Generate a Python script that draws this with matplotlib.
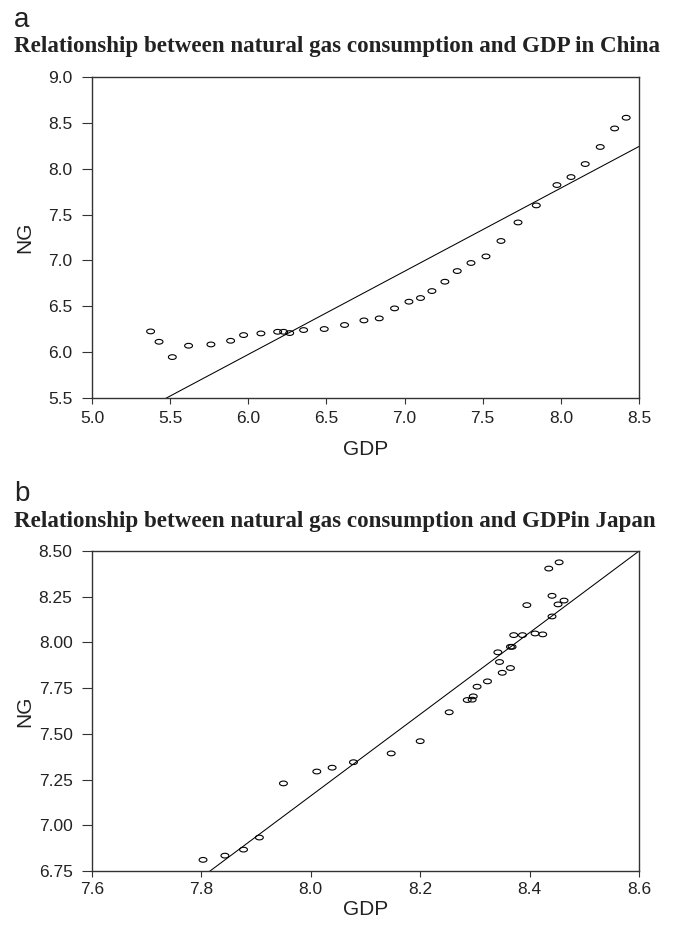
import numpy as np
import matplotlib
matplotlib.use("Agg")
import matplotlib.pyplot as plt
from matplotlib.path import Path
from matplotlib.ticker import FormatStrFormatter

# Data (log GDP vs log natural gas consumption)

chinaGdp = [5.375, 5.429, 5.514, 5.618, 5.761, 5.887, 5.970, 6.081, 6.188, 6.226,
            6.265, 6.354, 6.486, 6.616, 6.740, 6.838, 6.936, 7.028, 7.102, 7.175,
            7.258, 7.337, 7.425, 7.521, 7.617, 7.726, 7.843, 7.975, 8.065, 8.156,
            8.252, 8.344, 8.418]
chinaNg = [6.226, 6.113, 5.946, 6.070, 6.084, 6.124, 6.186, 6.204, 6.222, 6.222,
           6.208, 6.241, 6.252, 6.296, 6.346, 6.368, 6.477, 6.550, 6.590, 6.666,
           6.768, 6.884, 6.972, 7.044, 7.212, 7.414, 7.600, 7.822, 7.909, 8.051,
           8.237, 8.439, 8.556]
chinaFit = (0.533, 0.907)   # intercept, slope

japanGdp = [7.803, 7.843, 7.877, 7.906, 7.950, 8.011, 8.039, 8.078, 8.147, 8.200,
            8.253, 8.286, 8.295, 8.297, 8.304, 8.323, 8.342, 8.345, 8.350, 8.365,
            8.365, 8.368, 8.371, 8.387, 8.395, 8.410, 8.424, 8.441, 8.435, 8.454,
            8.441, 8.452, 8.463]
japanNg = [6.811, 6.834, 6.867, 6.933, 7.229, 7.294, 7.315, 7.345, 7.393, 7.460,
           7.618, 7.685, 7.687, 7.705, 7.758, 7.787, 7.946, 7.893, 7.834, 7.860,
           7.976, 7.976, 8.040, 8.040, 8.204, 8.049, 8.044, 8.142, 8.404, 8.438,
           8.255, 8.208, 8.229]
japanFit = (-10.687, 2.231)

chinaXticks = [5.0, 5.5, 6.0, 6.5, 7.0, 7.5, 8.0, 8.5]
chinaYticks = [5.5, 6.0, 6.5, 7.0, 7.5, 8.0, 8.5, 9.0]
japanXticks = [7.6, 7.8, 8.0, 8.2, 8.4, 8.6]
japanYticks = [6.75, 7.00, 7.25, 7.50, 7.75, 8.00, 8.25, 8.50]

sansFont = ['Liberation Sans', 'DejaVu Sans']
serifFont = ['Liberation Serif', 'DejaVu Serif']
textColor = '#222222'

# Open ellipse marker, wider than tall
theta = np.linspace(0, 2 * np.pi, 40)
ellipse = Path(np.column_stack([np.cos(theta), 0.6 * np.sin(theta)]))

fig = plt.figure(figsize=(6.75, 9.26), dpi=100)
W, H = 675.0, 926.0


def draw_panel(ax, x, y, fit, xticks, yticks, yfmt, xpad, xlabelY):
    ax.scatter(x, y, marker=ellipse, s=32, facecolors='none', edgecolors='black',
               linewidths=0.8, zorder=3)
    xl = np.array([xticks[0], xticks[-1]])
    ax.plot(xl, fit[0] + fit[1] * xl, color='black', lw=0.75, zorder=2)
    ax.set_xlim(xticks[0], xticks[-1])
    ax.set_ylim(yticks[0], yticks[-1])
    ax.set_xticks(xticks)
    ax.set_yticks(yticks)
    ax.xaxis.set_major_formatter(FormatStrFormatter('%.1f'))
    ax.yaxis.set_major_formatter(FormatStrFormatter(yfmt))
    ax.tick_params(axis='x', direction='out', length=4.2, width=0.8, color='#333333',
                   labelsize=12.5, pad=xpad)
    ax.tick_params(axis='y', direction='out', length=7.5, width=0.8, color='#333333',
                   labelsize=12.5, pad=6.5)
    for lab in ax.get_xticklabels() + ax.get_yticklabels():
        lab.set_family(sansFont)
        lab.set_color(textColor)
    for sp in ax.spines.values():
        sp.set_linewidth(1.0)
        sp.set_color('#333333')
    ax.set_xlabel('GDP', family=sansFont, fontsize=15, color=textColor)
    ax.set_ylabel('NG', family=sansFont, fontsize=15, color=textColor)
    ax.xaxis.set_label_coords(0.5, xlabelY)
    ax.yaxis.set_label_coords(-(92 - 34) / 547.0, 0.5)


# Panel a - China
ax1 = fig.add_axes([92 / W, 1 - 398 / H, 547 / W, 321 / H])
draw_panel(ax1, chinaGdp, chinaNg, chinaFit, chinaXticks, chinaYticks, '%.1f',
           5.5, -(440 - 398) / 321.0)
fig.text(14 / W, 1 - 27 / H, 'a', family=sansFont, fontsize=20, color=textColor)
fig.text(14 / W, 1 - 52 / H, 'Relationship between natural gas consumption and GDP in China',
         family=serifFont, fontweight='bold', fontsize=16.6, color=textColor)

# Panel b - Japan
ax2 = fig.add_axes([92 / W, 1 - 871 / H, 547 / W, 320 / H])
draw_panel(ax2, japanGdp, japanNg, japanFit, japanXticks, japanYticks, '%.2f',
           4.0, -(900 - 871) / 320.0)
fig.text(14 / W, 1 - 501 / H, 'b', family=sansFont, fontsize=20, color=textColor)
fig.text(14 / W, 1 - 527 / H, 'Relationship between natural gas consumption and GDPin Japan',
         family=serifFont, fontweight='bold', fontsize=16.6, color=textColor)

plt.savefig('out.png', dpi=100)
